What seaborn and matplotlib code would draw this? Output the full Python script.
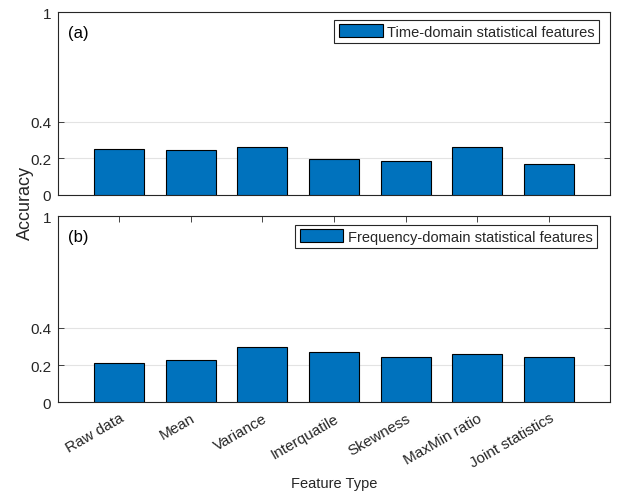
import matplotlib
matplotlib.use("Agg")
import matplotlib.pyplot as plt
import seaborn as sns
import pandas as pd

categories = ["Raw data", "Mean", "Variance", "Interquatile", "Skewness",
              "MaxMin ratio", "Joint statistics"]
time_acc = [0.249, 0.244, 0.264, 0.195, 0.185, 0.262, 0.171]
freq_acc = [0.213, 0.226, 0.299, 0.269, 0.244, 0.258, 0.242]
yticks = [0, 0.2, 0.4, 1]
yticklabels = ["0", "0.2", "0.4", "1"]

sns.set_theme(style="white")
plt.rcParams['font.family'] = ['Liberation Sans', 'DejaVu Sans']
plt.rcParams['font.size'] = 10

fig = plt.figure(figsize=(6.25, 5.02), dpi=100)
ax1 = fig.add_axes([0.0928, 0.6096, 0.8832, 0.3645])
ax2 = fig.add_axes([0.0928, 0.1966, 0.8832, 0.3705])

dark = "#262626"
blue = "#0072BD"

def draw(ax, vals, label, tag, show_x, anchor):
    df = pd.DataFrame({"Feature": categories, "Accuracy": vals})
    sns.barplot(data=df, x="Feature", y="Accuracy", ax=ax, color=blue,
                saturation=1, width=0.7, edgecolor="black", linewidth=0.8,
                label=label, zorder=3)
    ax.set_xlim(-0.85, 6.85)
    ax.set_ylim(0, 1)
    ax.set_yticks(yticks)
    ax.set_yticklabels(yticklabels, fontsize=11, color=dark)
    ax.yaxis.grid(True, color="#e3e3e3", linewidth=0.8, zorder=0)
    ax.set_axisbelow(True)
    for s in ax.spines.values():
        s.set_color(dark)
        s.set_linewidth(0.8)
    ax.tick_params(axis="y", direction="in", length=4, width=0.6,
                   left=True, right=True, colors=dark, labelcolor=dark,
                   pad=5)
    if show_x:
        ax.tick_params(axis="x", direction="in", length=4, width=0.6,
                       bottom=True, top=True, colors=dark, pad=6)
        ax.set_xticks(range(len(categories)))
        ax.set_xticklabels(categories, rotation=30, ha="right",
                           rotation_mode="anchor", fontsize=11, color=dark)
        ax.set_xlabel("Feature Type", fontsize=10.5, color=dark, labelpad=4)
    else:
        ax.tick_params(axis="x", bottom=False, top=False, labelbottom=False)
        ax.set_xlabel("")
    ax.set_ylabel("")
    ax.text(0.0175, 0.89, tag, transform=ax.transAxes, fontsize=12,
            va="center", ha="left", color="black")
    leg = ax.legend(loc="upper right", bbox_to_anchor=anchor, fontsize=10.5,
                    frameon=True, fancybox=False, framealpha=1,
                    edgecolor=dark, handlelength=3.0, handleheight=0.95,
                    handletextpad=0.3, borderpad=0.3, borderaxespad=0)
    leg.get_frame().set_linewidth(0.8)

draw(ax1, time_acc, "Time-domain statistical features", "(a)", False,
     (0.980, 0.956))
draw(ax2, freq_acc, "Frequency-domain statistical features", "(b)", True,
     (0.9764, 0.953))

fig.text(0.04, 0.595, "Accuracy", rotation=90, fontsize=13, color=dark,
         ha="center", va="center")

fig.savefig("out.png", dpi=100)
